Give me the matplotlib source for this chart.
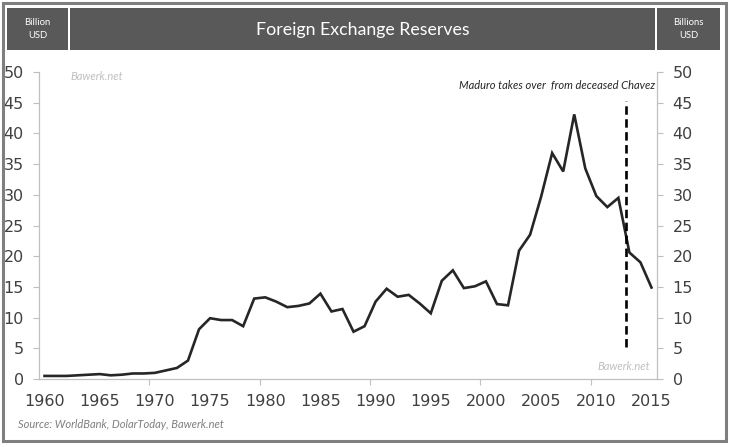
import matplotlib
matplotlib.use("Agg")
import matplotlib.pyplot as plt
from matplotlib.patches import Rectangle
import numpy as np

years = list(range(1960, 2016))
reserves = [0.5, 0.5, 0.5, 0.6, 0.7, 0.8, 0.6, 0.7, 0.9, 0.9,
            1.0, 1.4, 1.8, 3.0, 8.1, 9.9, 9.6, 9.6, 8.6, 13.1,
            13.3, 12.6, 11.7, 11.9, 12.3, 13.9, 11.0, 11.4, 7.7, 8.6,
            12.6, 14.7, 13.4, 13.7, 12.3, 10.7, 16.0, 17.7, 14.8, 15.1,
            15.9, 12.2, 12.0, 20.9, 23.5, 29.7, 36.8, 33.8, 43.1, 34.3,
            29.8, 28.0, 29.5, 20.6, 19.0, 14.9]
x_labels = [1960, 1965, 1970, 1975, 1980, 1985, 1990, 1995, 2000, 2005, 2010, 2015]
y_ticks = [0, 5, 10, 15, 20, 25, 30, 35, 40, 45, 50]
event_year = 2012.7
event_range = [5.2, 45.2]
title = "Foreign Exchange Reserves"
left_unit = "Billion\nUSD"
right_unit = "Billions\nUSD"
annotation = "Maduro takes over  from deceased Chavez"
watermark = "Bawerk.net"
source = "Source: WorldBank, DolarToday, Bawerk.net"

W, H = 730, 447
fig = plt.figure(figsize=(W / 100, H / 100), dpi=100)

def fx(x):
    return x / W

def fy(y):
    return 1 - y / H

TICK_FONT = ["Liberation Sans Narrow", "DejaVu Sans"]
TEXT_FONT = ["Lato", "DejaVu Sans"]
GRID = "#bfbfbf"
LABEL = "#404040"

# outer frame
fig.patches.append(Rectangle((fx(3), fy(441)), fx(723), 438 / H, transform=fig.transFigure,
                             fill=False, edgecolor="#7f7f7f", linewidth=2.2, zorder=0))
# header boxes
for x0, x1 in [(7, 68), (70, 655), (657, 720)]:
    fig.patches.append(Rectangle((fx(x0), fy(50)), fx(x1 - x0), 42 / H,
                                 transform=fig.transFigure, facecolor="#595959",
                                 edgecolor="none", zorder=0))
fig.text(fx(363), fy(30), title, color="white", fontsize=12.8, family=TEXT_FONT,
         fontweight="normal", ha="center", va="center", zorder=5)
fig.text(fx(37.5), fy(29), left_unit, color="white", fontsize=6.8, family=TEXT_FONT,
         ha="center", va="center", multialignment="center", linespacing=1.5, zorder=5)
fig.text(fx(688.5), fy(29), right_unit, color="white", fontsize=6.8, family=TEXT_FONT,
         ha="center", va="center", multialignment="center", linespacing=1.5, zorder=5)

ax = fig.add_axes([fx(39), fy(379), fx(657 - 39), 307 / H])
ax.plot(years, reserves, color="#262626", linewidth=1.9, solid_joinstyle="miter")
ax.plot([event_year, event_year], event_range, color="black", linewidth=1.9,
        linestyle=(0, (3.2, 1.7)))

ax.set_xlim(1959.5, 2015.5)
ax.set_ylim(0, 50)
ax.set_yticks(y_ticks)
ax.set_xticks(x_labels)
ax.set_xticks([1969.5, 1979.5, 1989.5, 1999.5, 2009.5], minor=True)
ax.tick_params(axis="x", which="major", length=0, pad=11, labelsize=11.5,
               labelcolor=LABEL)
ax.tick_params(axis="x", which="minor", length=4.3, color=GRID, width=0.8)
ax.tick_params(axis="y", length=4.3, color=GRID, width=0.8, pad=6.5,
               labelsize=11.5, labelcolor=LABEL)
for lbl in ax.get_xticklabels() + ax.get_yticklabels():
    lbl.set_family(TICK_FONT)
for s in ["left", "bottom", "right"]:
    ax.spines[s].set_color(GRID)
    ax.spines[s].set_linewidth(0.8)
ax.spines["top"].set_visible(False)

ax2 = ax.twinx()
ax2.set_ylim(0, 50)
ax2.set_yticks(y_ticks)
ax2.tick_params(axis="y", length=4.3, color=GRID, width=0.8, pad=7,
                labelsize=11.5, labelcolor=LABEL)
for lbl in ax2.get_yticklabels():
    lbl.set_family(TICK_FONT)
for s in ["left", "bottom", "right"]:
    ax2.spines[s].set_color(GRID)
    ax2.spines[s].set_linewidth(0.8)
ax2.spines["top"].set_visible(False)

fig.text(fx(655), fy(85), annotation, color="#262626", fontsize=8, style="italic",
         family=TEXT_FONT, ha="right", va="center")
fig.text(fx(70), fy(76), watermark, color="#bfbfbf", fontsize=8, style="italic",
         family=TEXT_FONT, ha="left", va="center")
fig.text(fx(650), fy(366), watermark, color="#bfbfbf", fontsize=8, style="italic",
         family=TEXT_FONT, ha="right", va="center")
fig.text(fx(18), fy(425), source, color="#7f7f7f", fontsize=8, style="italic",
         family=TEXT_FONT, ha="left", va="center")

fig.savefig("out.png", dpi=100)
